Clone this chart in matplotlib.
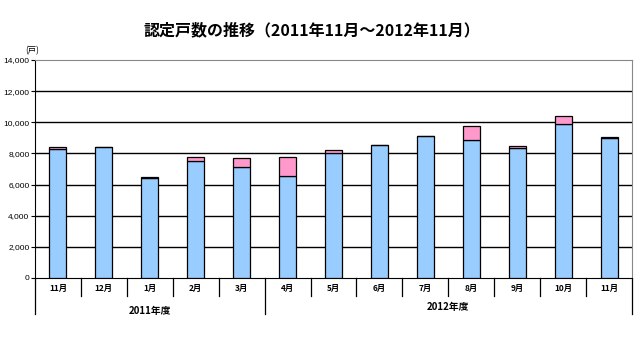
import matplotlib
matplotlib.use("Agg")
import matplotlib.pyplot as plt
from matplotlib.ticker import FuncFormatter

plt.rcParams['font.family'] = ['Noto Sans CJK JP', 'DejaVu Sans']

# monthly certified units, split into two series
months = ["11月", "12月", "1月", "2月", "3月", "4月", "5月", "6月",
          "7月", "8月", "9月", "10月", "11月"]
blue_vals = [8270, 8400, 6440, 7530, 7160, 6550, 8040, 8510,
             9150, 8890, 8320, 9910, 9020]
pink_vals = [150, 30, 60, 270, 520, 1230, 190, 60,
             0, 900, 140, 500, 60]
fiscal_years = ["2011年度", "2012年度"]
fy_split = 5  # first month of the 2012 fiscal year

fig = plt.figure(figsize=(6.4, 3.42), dpi=100)
ax = fig.add_axes([35 / 640, 64 / 342, 597 / 640, 218 / 342])

x = list(range(len(months)))
ax.bar(x, blue_vals, width=0.37, color="#99ccff", edgecolor="black", linewidth=0.9, zorder=3)
ax.bar(x, pink_vals, width=0.37, bottom=blue_vals, color="#ff99cc",
       edgecolor="black", linewidth=0.9, zorder=3)

ax.set_xlim(-0.5, len(months) - 0.5)
ax.set_ylim(0, 14000)
ax.set_yticks(range(0, 14001, 2000))
ax.yaxis.set_major_formatter(FuncFormatter(lambda v, p: f"{int(v):,}"))
ax.tick_params(axis="y", labelsize=6, length=3, width=0.8, pad=1)
for lbl in ax.get_yticklabels():
    lbl.set_family(["Liberation Sans", "DejaVu Sans"])
ax.set_xticks([])
for y in range(2000, 14000, 2000):
    ax.axhline(y, color="black", linewidth=1, zorder=1)

for side in ("top", "right"):
    ax.spines[side].set_color("#888888")
ax.spines["left"].set_color("black")
ax.spines["bottom"].set_color("black")

ax.text(-0.017, 1.045, "(戸)", transform=ax.transAxes, fontsize=6, ha="left", va="center")

# category axis: month labels with separators, then fiscal year groups
trans = ax.get_xaxis_transform()
for i, m in enumerate(months):
    ax.text(i, -0.05, m, transform=trans, fontsize=6, fontweight="bold",
            ha="center", va="center")
for b in range(len(months) + 1):
    xb = b - 0.5
    low = -0.165 if b in (0, fy_split, len(months)) else -0.083
    ax.plot([xb, xb], [0, low], transform=trans, color="black",
            linewidth=0.9, clip_on=False)
ax.text((fy_split - 1) / 2, -0.15, fiscal_years[0], transform=trans, fontsize=7,
        fontweight="bold", ha="center", va="center")
ax.text((fy_split + len(months) - 1) / 2, -0.135, fiscal_years[1], transform=trans,
        fontsize=7, fontweight="bold", ha="center", va="center")

fig.text(312 / 640, 1 - 30 / 342, "認定戸数の推移（2011年11月～2012年11月）",
         fontsize=11.5, fontweight="bold", ha="center", va="center")

fig.savefig("out.png", dpi=100)
